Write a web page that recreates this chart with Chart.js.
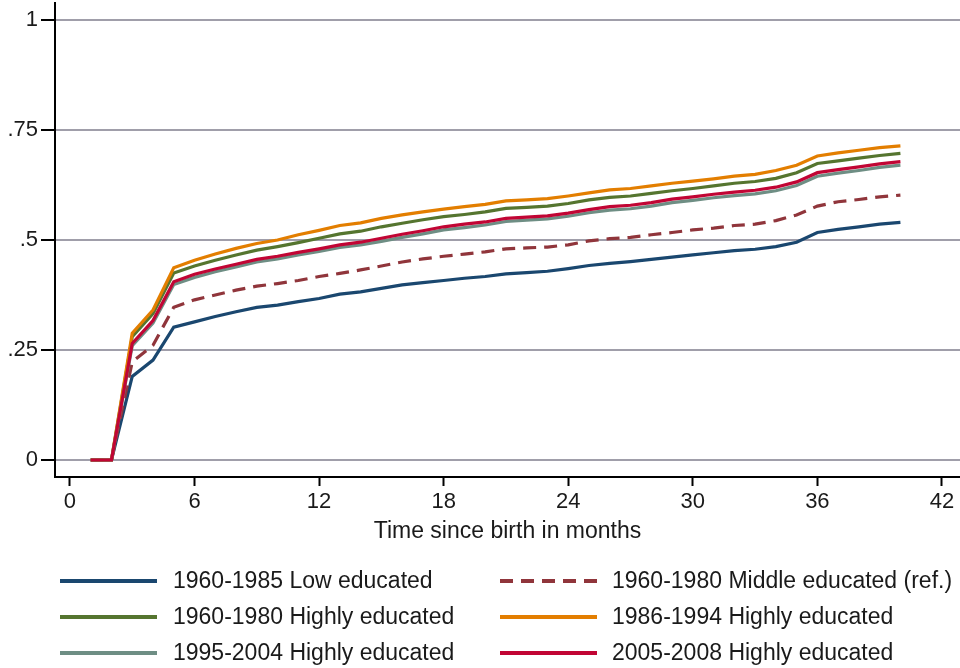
<!DOCTYPE html>
<html>
<head>
<meta charset="utf-8">
<script src="https://cdn.jsdelivr.net/npm/chart.js@4.4.1/dist/chart.umd.min.js"></script>
<style>
	html, body { margin: 0; padding: 0; background: #fff; }
	#wrap { width: 960px; height: 668px; position: relative; }
</style>
</head>
<body>
<div id="wrap"><canvas id="myChart"></canvas></div>
<script>
const months = [1, 2, 3, 4, 5, 6, 7, 8, 9, 10, 11, 12, 13, 14, 15, 16, 17, 18, 19, 20,
	21, 22, 23, 24, 25, 26, 27, 28, 29, 30, 31, 32, 33, 34, 35, 36, 37, 38, 39, 40];

const lowEdu6085 = [0, 0, 0.190, 0.227, 0.302, 0.314, 0.326, 0.337, 0.347, 0.352,
	0.360, 0.367, 0.377, 0.382, 0.390, 0.398, 0.403, 0.408, 0.413, 0.417,
	0.423, 0.426, 0.429, 0.435, 0.442, 0.447, 0.451, 0.456, 0.461, 0.466,
	0.471, 0.476, 0.479, 0.485, 0.495, 0.517, 0.524, 0.530, 0.536, 0.540];

const midEdu6080 = [0, 0, 0.223, 0.261, 0.347, 0.364, 0.375, 0.386, 0.395, 0.401,
	0.408, 0.417, 0.424, 0.432, 0.441, 0.450, 0.457, 0.463, 0.468, 0.473,
	0.480, 0.482, 0.484, 0.489, 0.498, 0.503, 0.506, 0.512, 0.517, 0.523,
	0.527, 0.533, 0.536, 0.544, 0.557, 0.577, 0.587, 0.592, 0.598, 0.602];

const highEdu6080 = [0, 0, 0.280, 0.333, 0.425, 0.441, 0.454, 0.466, 0.477, 0.485,
	0.494, 0.504, 0.514, 0.520, 0.530, 0.538, 0.546, 0.553, 0.558, 0.564,
	0.572, 0.574, 0.577, 0.583, 0.591, 0.597, 0.600, 0.606, 0.612, 0.617,
	0.623, 0.629, 0.633, 0.640, 0.653, 0.674, 0.680, 0.686, 0.692, 0.697];

const highEdu8694 = [0, 0, 0.288, 0.341, 0.437, 0.454, 0.468, 0.481, 0.492, 0.500,
	0.512, 0.522, 0.533, 0.539, 0.549, 0.557, 0.564, 0.570, 0.576, 0.581,
	0.589, 0.591, 0.594, 0.600, 0.607, 0.614, 0.617, 0.623, 0.629, 0.634,
	0.639, 0.645, 0.649, 0.658, 0.670, 0.691, 0.698, 0.704, 0.710, 0.714];

const highEdu9504 = [0, 0, 0.260, 0.311, 0.399, 0.415, 0.428, 0.439, 0.450, 0.457,
	0.466, 0.474, 0.483, 0.489, 0.497, 0.506, 0.514, 0.523, 0.528, 0.534,
	0.542, 0.545, 0.548, 0.554, 0.562, 0.568, 0.571, 0.577, 0.585, 0.590,
	0.596, 0.601, 0.605, 0.612, 0.624, 0.645, 0.652, 0.658, 0.665, 0.670];

const highEdu0508 = [0, 0, 0.265, 0.317, 0.405, 0.422, 0.434, 0.445, 0.456, 0.463,
	0.472, 0.480, 0.489, 0.495, 0.504, 0.513, 0.521, 0.530, 0.536, 0.541,
	0.549, 0.552, 0.555, 0.561, 0.569, 0.576, 0.579, 0.585, 0.593, 0.598,
	0.604, 0.609, 0.613, 0.620, 0.632, 0.653, 0.660, 0.666, 0.673, 0.678];

const seriesLabels = [
	'1960-1985 Low educated',
	'1960-1980 Middle educated (ref.)',
	'1960-1980 Highly educated',
	'1986-1994 Highly educated',
	'1995-2004 Highly educated',
	'2005-2008 Highly educated'
];

const xTicks = [0, 6, 12, 18, 24, 30, 36, 42];
const yTicks = [0, 0.25, 0.5, 0.75, 1];
const yTickLabels = ['0', '.25', '.5', '.75', '1'];

const FONT = '"Liberation Sans", Arial, Helvetica, sans-serif';
const TEXT = '#1a1a1a';

function toPoints(arr) {
	return arr.map(function(v, i) { return { x: months[i], y: v }; });
}

function makeSet(idx, data, color, dash, order) {
	return {
		label: seriesLabels[idx],
		data: toPoints(data),
		borderColor: color,
		backgroundColor: color,
		borderWidth: 3.2,
		borderDash: dash,
		pointRadius: 0,
		tension: 0,
		fill: false,
		order: order
	};
}

// legend in two columns under the axis title
const legendPlugin = {
	id: 'gridLegend',
	afterDraw: function(chart) {
		const c = chart.ctx;
		const rows = [581, 617, 653];
		const lineX = [[60, 157], [500, 597]];
		const textX = [173, 612];
		c.save();
		c.font = '23px ' + FONT;
		c.textBaseline = 'middle';
		c.textAlign = 'left';
		chart.data.datasets.forEach(function(ds, i) {
			const col = i % 2;
			const y = rows[Math.floor(i / 2)];
			c.strokeStyle = ds.borderColor;
			c.lineWidth = 4;
			c.setLineDash(ds.borderDash || []);
			c.beginPath();
			c.moveTo(lineX[col][0], y);
			c.lineTo(lineX[col][1], y);
			c.stroke();
			c.setLineDash([]);
			c.fillStyle = TEXT;
			c.fillText(ds.label, textX[col], y + 1);
		});
		c.restore();
	}
};

const ctx = document.querySelector('#myChart').getContext('2d');

const config = {
	type: 'line',
	data: {
		datasets: [
			makeSet(0, lowEdu6085, '#1a476f', [], 6),
			makeSet(1, midEdu6080, '#90353b', [13, 8], 5),
			makeSet(2, highEdu6080, '#55752f', [], 4),
			makeSet(3, highEdu8694, '#e37e00', [], 3),
			makeSet(4, highEdu9504, '#6e8e84', [], 2),
			makeSet(5, highEdu0508, '#c10534', [], 1)
		]
	},
	options: {
		responsive: true,
		maintainAspectRatio: false,
		animation: false,
		layout: { padding: { top: 3, right: 0, bottom: 121, left: 0 } },
		plugins: {
			legend: { display: false },
			tooltip: { enabled: false }
		},
		scales: {
			x: {
				type: 'linear',
				min: -0.72,
				max: 42.87,
				afterBuildTicks: function(scale) {
					scale.ticks = xTicks.map(function(v) { return { value: v }; });
				},
				afterFit: function(scale) {
					scale.height = 70;
					scale.paddingLeft = 0;
					scale.paddingRight = 0;
				},
				border: { color: '#000', width: 2 },
				grid: {
					drawOnChartArea: false,
					tickLength: 9,
					tickWidth: 2,
					tickColor: '#000'
				},
				ticks: {
					padding: 3,
					maxRotation: 0,
					color: TEXT,
					font: { family: FONT, size: 22 }
				},
				title: {
					display: true,
					text: 'Time since birth in months',
					color: TEXT,
					padding: { top: 0, bottom: 2 },
					font: { family: FONT, size: 23 }
				}
			},
			y: {
				type: 'linear',
				min: -0.0386,
				max: 1.0386,
				afterBuildTicks: function(scale) {
					scale.ticks = yTicks.map(function(v) { return { value: v }; });
				},
				afterFit: function(scale) {
					scale.width = 55;
					scale.paddingTop = 0;
					scale.paddingBottom = 0;
				},
				border: { color: '#000', width: 2 },
				grid: {
					color: '#a09eaa',
					lineWidth: 2,
					tickLength: 14,
					tickWidth: 2,
					tickColor: '#000'
				},
				ticks: {
					padding: 3,
					color: TEXT,
					font: { family: FONT, size: 22 },
					callback: function(value) {
						const k = yTicks.indexOf(value);
						return k >= 0 ? yTickLabels[k] : '';
					}
				}
			}
		}
	},
	plugins: [legendPlugin]
};

const chart = new Chart(ctx, config);
</script>
</body>
</html>
